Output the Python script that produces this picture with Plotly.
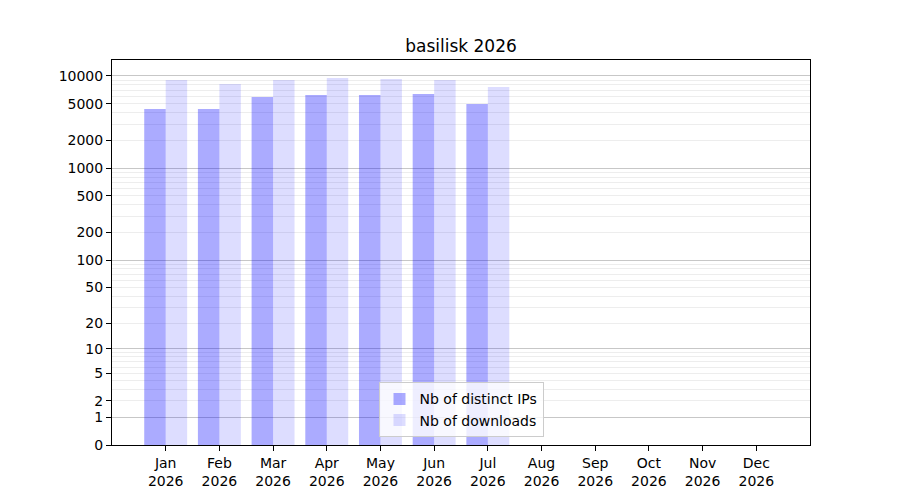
import plotly.graph_objects as go

months = ["Jan", "Feb", "Mar", "Apr", "May", "Jun", "Jul", "Aug", "Sep", "Oct", "Nov", "Dec"]
year = "2026"
distinct_ips = [4390, 4390, 5920, 6220, 6220, 6380, 4970, 0, 0, 0, 0, 0]
downloads = [9060, 8190, 9060, 9510, 9270, 9060, 7600, 0, 0, 0, 0, 0]
y_ticks = [0, 1, 2, 5, 10, 20, 50, 100, 200, 500, 1000, 2000, 5000, 10000]
major_grid = [1, 10, 100, 1000, 10000]
minor_grid = [m * 10 ** k for k in range(0, 4) for m in range(2, 10)]

x = list(range(len(months)))
ticktext = [f"{m}<br>{year}" for m in months]

# log10(1 + v) scale, realised with a log axis on (v + 1)
shift = lambda vals: [v + 1 for v in vals]

fig = go.Figure()
fig.add_trace(go.Bar(x=x, y=shift(distinct_ips), name="Nb of distinct IPs",
                     marker=dict(color="rgba(0,0,255,0.33)", line=dict(width=0))))
fig.add_trace(go.Bar(x=x, y=shift(downloads), name="Nb of downloads",
                     marker=dict(color="rgba(0,0,255,0.133)", line=dict(width=0))))
# invisible trace on overlay axis for gridlines
fig.add_trace(go.Scatter(x=[0], y=[1], yaxis="y2", mode="markers",
                         marker=dict(opacity=0), showlegend=False, hoverinfo="skip"))

font = dict(family="DejaVu Sans", size=14, color="black")
yr = [0, 4.1734]
fig.update_layout(
    width=900, height=500,
    margin=dict(l=104, r=98, t=52, b=63),
    paper_bgcolor="white", plot_bgcolor="white",
    font=font,
    barmode="group", bargap=0.2, bargroupgap=0,
    title=dict(text="basilisk 2026", x=0.5, xref="paper", y=1 - 38 / 500,
               yref="container", yanchor="middle", font=dict(family="DejaVu Sans", size=17)),
    xaxis=dict(range=[-1.0, 12.0], tickmode="array", tickvals=x, ticktext=ticktext,
               showgrid=False, zeroline=False, showline=True, mirror=True,
               linecolor="black", linewidth=1, ticks="outside", ticklen=5,
               tickcolor="black"),
    yaxis=dict(type="log", range=yr, tickmode="array", tickvals=shift(y_ticks),
               ticktext=[str(t) for t in y_ticks], showgrid=False, zeroline=False,
               showline=True, mirror=True, linecolor="black", linewidth=1,
               ticks="outside", ticklen=5, tickcolor="black"),
    yaxis2=dict(type="log", range=yr, overlaying="y", side="left",
                tickmode="array", tickvals=shift(major_grid), showticklabels=False,
                showgrid=True, gridcolor="rgba(0,0,0,0.22)", gridwidth=1,
                zeroline=False, showline=False, ticks="",
                minor=dict(tickmode="array", tickvals=shift(minor_grid), showgrid=True,
                           gridcolor="rgba(0,0,0,0.07)", gridwidth=1, ticks="")),
    legend=dict(x=0.5, xanchor="center", y=0.02, yanchor="bottom",
                bordercolor="#cccccc", borderwidth=1, bgcolor="rgba(255,255,255,0.8)",
                font=dict(family="DejaVu Sans", size=14), tracegroupgap=0),
)

fig.write_html("out.html")
